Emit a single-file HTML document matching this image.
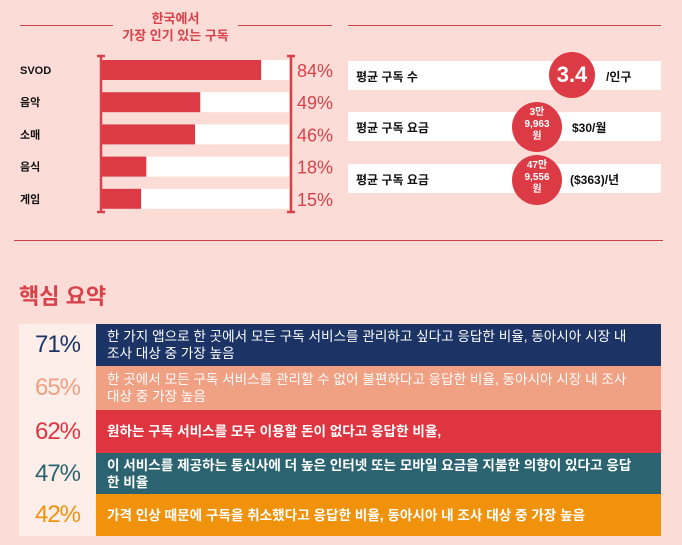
<!DOCTYPE html>
<html><head><meta charset="utf-8"><style>
body{margin:0;width:682px;height:545px;background:#fbdcd6;font-family:"Liberation Sans","Noto Sans CJK KR",sans-serif;position:relative;overflow:hidden}
.a{position:absolute}
.row{background:#fff;height:29px}
.rt{font-size:12px;font-weight:bold;color:#111}
.circ{border-radius:50%;background:#dc3a44;color:#fff;text-align:center;font-weight:bold}
.box{left:96px;width:565px;color:#fff;font-size:13.6px;line-height:17px;padding-left:11px;box-sizing:border-box;display:flex;align-items:center}
</style></head><body>
<div class="a" style="left:20px;top:25px;width:93px;height:1px;background:#c6414a"></div>
<div class="a" style="left:238px;top:25px;width:94px;height:1px;background:#c6414a"></div>
<div class="a" style="left:108px;top:10px;width:135px;text-align:center;font-size:13px;font-weight:bold;color:#d9414a;line-height:17px">한국에서<br>가장 인기 있는 구독</div>
<svg class="a" style="left:0;top:0" width="340" height="230" id="chart"></svg>
<div class="a" style="left:348px;top:25px;width:313px;height:1px;background:#c6414a"></div>
<div class="a row" style="left:348px;top:61px;width:313px"></div>
<div class="a row" style="left:348px;top:112px;width:313px"></div>
<div class="a row" style="left:348px;top:164px;width:313px"></div>
<div class="a rt" style="left:356px;top:68px">평균 구독 수</div>
<div class="a rt" style="left:356px;top:119px">평균 구독 요금</div>
<div class="a rt" style="left:356px;top:171px">평균 구독 요금</div>
<div class="a circ" style="left:549px;top:52px;width:46px;height:46px;line-height:46px;font-size:22px">3.4</div>
<div class="a rt" style="left:606px;top:68px">/인구</div>
<div class="a circ" style="left:512px;top:102px;width:50px;height:50px;font-size:10px;line-height:12px;padding-top:5px;box-sizing:border-box">3만<br>9,963<br>원</div>
<div class="a rt" style="left:572px;top:119px">$30/월</div>
<div class="a circ" style="left:512px;top:155px;width:50px;height:50px;font-size:10px;line-height:12px;padding-top:5px;box-sizing:border-box">47만<br>9,556<br>원</div>
<div class="a rt" style="left:570px;top:171px">($363)/년</div>
<div class="a" style="left:14px;top:240px;width:649px;height:1px;background:#c6414a"></div>
<div class="a" style="left:19px;top:279px;font-size:22px;font-weight:bold;color:#d9414a">핵심 요약</div>
<div class="a" style="left:19px;top:324px;width:77px;height:212px;background:#fdeeea"></div>
<div id="sum"></div>
<script>
const cats=["SVOD","음악","소매","음식","게임"];
const vals=[84,49,46,18,15];
const svg=document.getElementById('chart');
const NS="http://www.w3.org/2000/svg";
const barStart=102,trackEnd=289,zeroX=115,pxPer=1.74,y0=60,step=32.2,bh=20;
const xs=v=>zeroX+v*pxPer;
function mk(t,a){const e=document.createElementNS(NS,t);for(const k in a)e.setAttribute(k,a[k]);svg.appendChild(e);return e;}
cats.forEach((c,i)=>{
 const y=y0+i*step;
 const tr=mk('rect',{x:barStart,y:y,width:trackEnd-barStart,height:bh,fill:'#fff'});
 
 
 const b=mk('rect',{x:barStart,y:y,width:xs(vals[i])-barStart,height:bh,fill:'#dc3a44'});
 
 
 const l=mk('text',{x:20,y:y+14,'font-size':11,'font-weight':'bold',fill:'#111'});l.textContent=c;
 
 
 const p=mk('text',{x:297,y:y+17,'font-size':18,fill:'#d9414a'});p.textContent=vals[i]+'%';
 
 
});
[101,291].forEach(x=>{
 mk('line',{x1:x,x2:x,y1:56,y2:212,stroke:'#d9414a','stroke-width':2.5});
 mk('line',{x1:x-4,x2:x+4,y1:56,y2:56,stroke:'#d9414a','stroke-width':2.5});
 mk('line',{x1:x-4,x2:x+4,y1:212,y2:212,stroke:'#d9414a','stroke-width':2.5});
});
const sp=["71%","65%","62%","47%","42%"];
const st=["한 가지 앱으로 한 곳에서 모든 구독 서비스를 관리하고 싶다고 응답한 비율, 동아시아 시장 내<br>조사 대상 중 가장 높음","한 곳에서 모든 구독 서비스를 관리할 수 없어 불편하다고 응답한 비율, 동아시아 시장 내 조사<br>대상 중 가장 높음","원하는 구독 서비스를 모두 이용할 돈이 없다고 응답한 비율,","이 서비스를 제공하는 통신사에 더 높은 인터넷 또는 모바일 요금을 지불한 의향이 있다고 응답<br>한 비율","가격 인상 때문에 구독을 취소했다고 응답한 비율, 동아시아 내 조사 대상 중 가장 높음"];
const cols=["#1c3365","#f0a083","#df3540","#2b6470","#f0920c"];
const bold=[false,false,true,true,true];
const tops=[324,366,410,453,494],bots=[366,410,453,494,536];
const S=document.getElementById('sum');
sp.forEach((p,i)=>{
 const n=document.createElement('div');n.className='a';
 n.style.cssText=`left:19px;width:77px;top:${tops[i]}px;height:${bots[i]-tops[i]}px;line-height:${bots[i]-tops[i]}px;text-align:center;font-size:24px;letter-spacing:-1px;color:${cols[i]}`;
 n.textContent=p;
 
 
 S.appendChild(n);
 const b=document.createElement('div');b.className='a box';
 b.style.cssText+=`top:${tops[i]}px;height:${bots[i]-tops[i]}px;background:${cols[i]};font-weight:${bold[i]?'bold':'normal'}`;
 b.innerHTML=st[i];
 
 
 S.appendChild(b);
});
</script>
</body></html>
